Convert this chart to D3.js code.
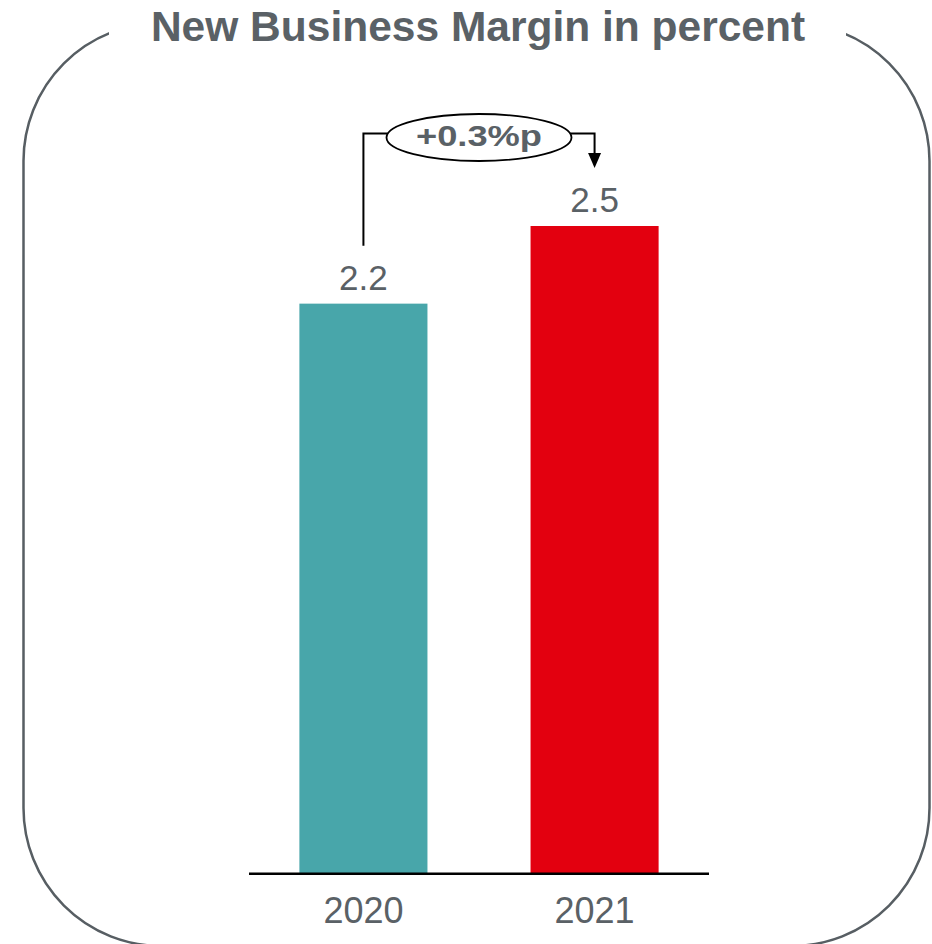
<!DOCTYPE html>
<html>
<head>
<meta charset="utf-8">
<script src="https://cdn.jsdelivr.net/npm/d3@7"></script>
<style>
  html, body { margin: 0; padding: 0; background: #ffffff; }
  svg { display: block; }
  text { font-family: "Liberation Sans", Arial, Helvetica, sans-serif; }
</style>
</head>
<body>
<svg id="chart" width="932" height="944"></svg>
<script>
// Chart data
const title = "New Business Margin in percent";
const years = ["2020", "2021"];
const margins = [2.2, 2.5];
const barColors = ["#48a6aa", "#e3000f"];
const deltaLabel = "+0.3%p";

const W = 932, H = 944;
const textGray = "#5a6166";
const frameGray = "#575e63";

const svg = d3.select("#chart");

// Scales
const x = d3.scaleBand()
  .domain(years)
  .range([249, 709])
  .paddingInner(0.446)
  .paddingOuter(0.218);

const baseY = 873;
const y = d3.scaleLinear()
  .domain([0, 3])
  .range([baseY, baseY - 258.8 * 3]);

// Rounded frame, open at the top where the title sits
const clip = svg.append("defs").append("clipPath").attr("id", "frame-clip");
clip.append("rect").attr("x", 0).attr("y", 0).attr("width", 109).attr("height", H);
clip.append("rect").attr("x", 846).attr("y", 0).attr("width", W - 846).attr("height", H);
clip.append("rect").attr("x", 0).attr("y", 45).attr("width", W).attr("height", H - 45);

svg.append("rect")
  .attr("x", 23.5)
  .attr("y", 23)
  .attr("width", 906)
  .attr("height", 923)
  .attr("rx", 138)
  .attr("ry", 138)
  .attr("fill", "none")
  .attr("stroke", frameGray)
  .attr("stroke-width", 2.5)
  .attr("clip-path", "url(#frame-clip)");

// Title
svg.append("text")
  .attr("x", 478)
  .attr("y", 40.5)
  .attr("text-anchor", "middle")
  .attr("font-size", 42.5)
  .attr("font-weight", "bold")
  .attr("fill", textGray)
  .text(title);

const data = years.map((yr, i) => ({ year: yr, value: margins[i], color: barColors[i] }));

// Bars
svg.append("g")
  .selectAll("rect")
  .data(data)
  .join("rect")
  .attr("x", d => x(d.year))
  .attr("y", d => y(d.value))
  .attr("width", x.bandwidth())
  .attr("height", d => y(0) - y(d.value))
  .attr("fill", d => d.color);

// Value labels
svg.append("g")
  .selectAll("text")
  .data(data)
  .join("text")
  .attr("x", d => x(d.year) + x.bandwidth() / 2)
  .attr("y", d => y(d.value) - 14)
  .attr("text-anchor", "middle")
  .attr("font-size", 35)
  .attr("fill", textGray)
  .text(d => d.value.toFixed(1));

// Baseline
svg.append("line")
  .attr("x1", x.range()[0])
  .attr("x2", x.range()[1])
  .attr("y1", y(0) + 0.8)
  .attr("y2", y(0) + 0.8)
  .attr("stroke", "#000")
  .attr("stroke-width", 2.5);

// Category labels
svg.append("g")
  .selectAll("text")
  .data(data)
  .join("text")
  .attr("x", d => x(d.year) + x.bandwidth() / 2)
  .attr("y", 923)
  .attr("text-anchor", "middle")
  .attr("font-size", 36)
  .attr("fill", textGray)
  .text(d => d.year);

// Change annotation: bracket from the first bar to the second with an ellipse label
const cx0 = x(years[0]) + x.bandwidth() / 2;
const cx1 = x(years[1]) + x.bandwidth() / 2;
const lift = 58;
const bracketY = 133.5;
const ell = { cx: (cx0 + cx1) / 2, cy: 137.5, rx: 92.5, ry: 23.5 };
const ellDx = ell.rx * Math.sqrt(1 - Math.pow((bracketY - ell.cy) / ell.ry, 2));
const tipY = y(margins[1]) - lift;
const headH = 15, headW = 13;

const ann = svg.append("g");
ann.append("path")
  .attr("d", d3.line()([
    [cx0, y(margins[0]) - lift],
    [cx0, bracketY],
    [ell.cx - ellDx, bracketY]
  ]))
  .attr("fill", "none")
  .attr("stroke", "#000")
  .attr("stroke-width", 2);

ann.append("path")
  .attr("d", d3.line()([
    [ell.cx + ellDx, bracketY],
    [cx1, bracketY],
    [cx1, tipY - headH + 1]
  ]))
  .attr("fill", "none")
  .attr("stroke", "#000")
  .attr("stroke-width", 2);

ann.append("path")
  .attr("d", d3.line()([
    [cx1 - headW / 2, tipY - headH],
    [cx1 + headW / 2, tipY - headH],
    [cx1, tipY]
  ]) + "Z")
  .attr("fill", "#000");

ann.append("ellipse")
  .attr("cx", ell.cx)
  .attr("cy", ell.cy)
  .attr("rx", ell.rx)
  .attr("ry", ell.ry)
  .attr("fill", "#fff")
  .attr("stroke", "#000")
  .attr("stroke-width", 1.8);

ann.append("text")
  .attr("x", ell.cx)
  .attr("y", 145.5)
  .attr("text-anchor", "middle")
  .attr("font-size", 30)
  .attr("font-weight", "bold")
  .attr("fill", textGray)
  .attr("textLength", 126)
  .attr("lengthAdjust", "spacingAndGlyphs")
  .text(deltaLabel);
</script>
</body>
</html>
